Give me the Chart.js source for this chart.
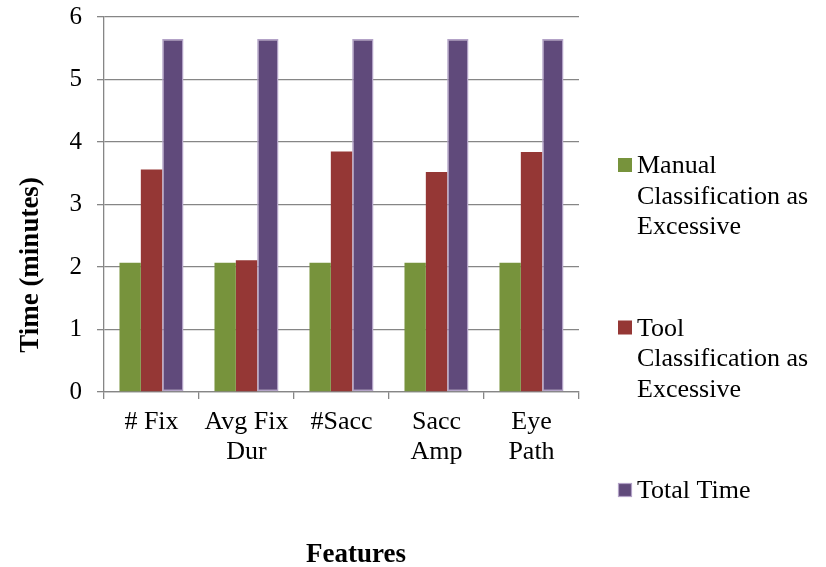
<!DOCTYPE html>
<html>
<head>
<meta charset="utf-8">
<title>Time per feature</title>
<script src="https://cdn.jsdelivr.net/npm/chart.js@4.4.1/dist/chart.umd.min.js"></script>
<style>
  html, body { margin: 0; padding: 0; background: #fff; }
  #wrap { width: 826px; height: 567px; position: relative; }
</style>
</head>
<body>
<div id="wrap"><canvas id="myChart"></canvas></div>
<script>
// data
var features = [["# Fix"], ["Avg Fix", "Dur"], ["#Sacc"], ["Sacc", "Amp"], ["Eye", "Path"]];
var seriesNames = ["Manual Classification as Excessive", "Tool Classification as Excessive", "Total Time"];
var manualTimes = [2.07, 2.07, 2.07, 2.07, 2.07];
var toolTimes = [3.56, 2.11, 3.85, 3.52, 3.84];
var totalTimes = [5.65, 5.65, 5.65, 5.65, 5.65];
var yMin = 0, yMax = 6, yStep = 1;
var yTitle = "Time (minutes)";
var xTitle = "Features";

var serif = "'Liberation Serif', 'Times New Roman', serif";
var gridGray = "#868686";

// split a label into lines no wider than maxW
function wrapText(ctx, text, maxW) {
  var words = text.split(" ");
  var lines = [];
  var cur = "";
  words.forEach(function (w) {
    var test = cur ? cur + " " + w : w;
    if (cur && ctx.measureText(test).width > maxW) {
      lines.push(cur);
      cur = w;
    } else {
      cur = test;
    }
  });
  if (cur) lines.push(cur);
  return lines;
}

// legend on the right, one block per series
var sideLegend = {
  id: "sideLegend",
  afterDraw: function (chart) {
    var ctx = chart.ctx;
    ctx.save();
    ctx.font = "26px " + serif;
    ctx.textBaseline = "alphabetic";
    ctx.textAlign = "left";
    chart.data.datasets.forEach(function (ds, i) {
      var base = 173 + i * 162.5;
      ctx.fillStyle = ds.backgroundColor;
      ctx.fillRect(618, base - 15, 14, 14);
      if (ds.borderWidth) {
        ctx.strokeStyle = ds.borderColor;
        ctx.lineWidth = 1.2;
        ctx.strokeRect(618.5, base - 14.5, 13, 13);
      }
      ctx.fillStyle = "#000";
      wrapText(ctx, ds.label, 185).forEach(function (line, k) {
        ctx.fillText(line, 637, base + k * 30.5);
      });
    });
    ctx.restore();
  }
};

// axis titles
var axisTitles = {
  id: "axisTitles",
  afterDraw: function (chart) {
    var ctx = chart.ctx;
    ctx.save();
    ctx.fillStyle = "#000";
    ctx.font = "bold 27px " + serif;
    ctx.textAlign = "center";
    ctx.textBaseline = "middle";
    ctx.fillText(xTitle, 356, 555);
    ctx.translate(31, 265);
    ctx.rotate(-Math.PI / 2);
    ctx.fillText(yTitle, 0, 0);
    ctx.restore();
  }
};

new Chart("myChart", {
  type: "bar",
  data: {
    labels: features,
    datasets: [
      {
        label: seriesNames[0],
        data: manualTimes,
        backgroundColor: "#77933C",
        borderWidth: 0
      },
      {
        label: seriesNames[1],
        data: toolTimes,
        backgroundColor: "#953735",
        borderWidth: 0
      },
      {
        label: seriesNames[2],
        data: totalTimes,
        backgroundColor: "#604A7B",
        borderColor: "#B3A2C7",
        borderWidth: 1.5,
        borderSkipped: false
      }
    ]
  },
  options: {
    responsive: true,
    maintainAspectRatio: false,
    animation: false,
    layout: { padding: { left: 0, top: 17, right: 247, bottom: 0 } },
    datasets: {
      bar: { categoryPercentage: 0.674, barPercentage: 1.0 }
    },
    plugins: {
      legend: { display: false },
      tooltip: { enabled: false }
    },
    scales: {
      x: {
        afterFit: function (scale) { scale.height = 175; },
        grid: {
          offset: true,
          drawOnChartArea: false,
          drawTicks: true,
          tickLength: 7,
          color: gridGray,
          lineWidth: 1.3
        },
        border: { color: gridGray, width: 1.3 },
        ticks: {
          color: "#000",
          padding: 8,
          maxRotation: 0,
          autoSkip: false,
          font: { family: serif, size: 26, lineHeight: 1.15 }
        }
      },
      y: {
        min: yMin,
        max: yMax,
        afterFit: function (scale) {
          scale.width = 104;
          // the top label may hang over the plot edge
          scale.paddingTop = 0;
          scale.paddingBottom = 0;
        },
        grid: {
          color: gridGray,
          lineWidth: 1.3,
          drawTicks: true,
          tickLength: 7
        },
        border: { color: gridGray, width: 1.3 },
        ticks: {
          stepSize: yStep,
          color: "#000",
          padding: 15,
          font: { family: serif, size: 25 }
        }
      }
    }
  },
  plugins: [sideLegend, axisTitles]
});
</script>
</body>
</html>
